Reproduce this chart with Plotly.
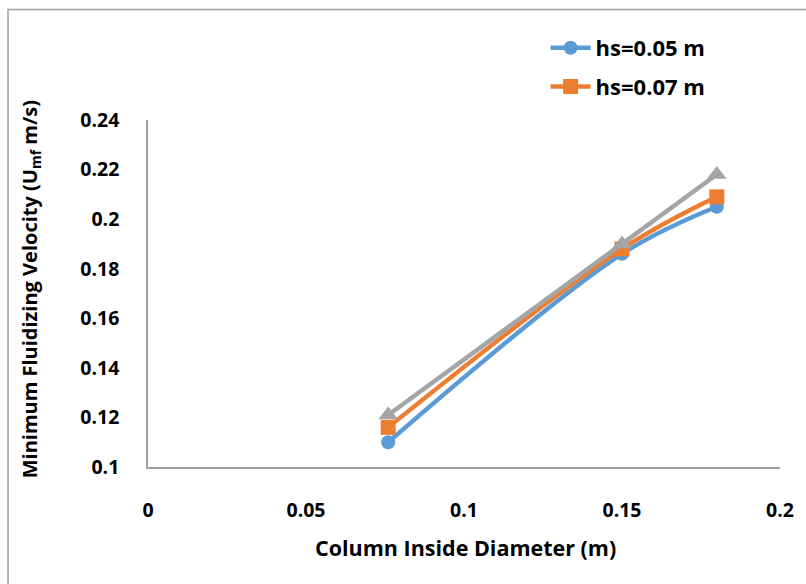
import plotly.graph_objects as go

diameter = [0.076, 0.15, 0.18]
umf_hs005 = [0.110, 0.186, 0.205]
umf_hs007 = [0.116, 0.188, 0.209]
umf_hs009 = [0.121, 0.190, 0.218]

names = ["hs=0.05 m", "hs=0.07 m", "hs=0.09 m"]
colors = ["#5B9BD5", "#ED7D31", "#A5A5A5"]
symbols = ["circle", "square", "triangle-up"]
sizes = [14, 15, 17]
show = [True, True, False]
series = [umf_hs005, umf_hs007, umf_hs009]

FONT = "Open Sans"

fig = go.Figure()
for i, ys in enumerate(series):
    fig.add_trace(go.Scatter(
        x=diameter, y=ys, name=names[i], mode="lines+markers",
        line=dict(color=colors[i], width=4.5, shape="spline"),
        marker=dict(symbol=symbols[i], size=sizes[i], color=colors[i]),
        showlegend=show[i], legendgroup=names[i],
    ))

L, R, T, B = 148, 19, 120, 117
W, H = 806, 584
pw, ph = W - L - R, H - T - B

def px_x(p):
    return (p - L) / pw

def px_y(p):
    return (H - B - p) / ph

fig.update_layout(
    width=W, height=H,
    margin=dict(l=L, r=R, t=T, b=B),
    paper_bgcolor="white", plot_bgcolor="white",
    font=dict(family=FONT, color="black"),
    showlegend=True,
    legend=dict(
        x=px_x(550), y=px_y(27), xanchor="left", yanchor="top",
        font=dict(family=FONT, size=22, color="black", weight="bold"),
        bgcolor="rgba(0,0,0,0)", tracegroupgap=7, itemwidth=40,
    ),
    xaxis=dict(
        range=[0, 0.2], dtick=0.05, tick0=0, showgrid=False, zeroline=False,
        showline=True, linecolor="#A0A0A0", linewidth=1.5, ticks="",
        tickfont=dict(family=FONT, size=19.5, color="black", weight="bold"),
        ticklabelstandoff=25, tickformat="~g",
    ),
    yaxis=dict(
        range=[0.1, 0.24], dtick=0.02, tick0=0.1, showgrid=False, zeroline=False,
        showline=True, linecolor="#A0A0A0", linewidth=1.5, ticks="",
        tickfont=dict(family=FONT, size=19.5, color="black", weight="bold"),
        ticklabelstandoff=23, tickformat="~g",
    ),
    shapes=[dict(
        type="rect", xref="paper", yref="paper",
        x0=px_x(6.5), x1=px_x(830), y0=px_y(610), y1=px_y(9.5),
        line=dict(color="#A0A0A0", width=1.5), fillcolor="rgba(0,0,0,0)",
        layer="below",
    )],
    annotations=[
        dict(text="Column Inside Diameter (m)", xref="paper", yref="paper",
             x=px_x(469), y=px_y(547), xanchor="center", yanchor="middle",
             showarrow=False,
             font=dict(family=FONT, size=21.5, color="black", weight="bold")),
        dict(text="Minimum Fluidizing Velocity (U<sub>mf</sub> m/s)",
             xref="paper", yref="paper", x=px_x(29), y=px_y(289),
             xanchor="center", yanchor="middle", textangle=-90,
             showarrow=False,
             font=dict(family=FONT, size=20, color="black", weight="bold")),
    ],
)

fig.write_html("out.html")
